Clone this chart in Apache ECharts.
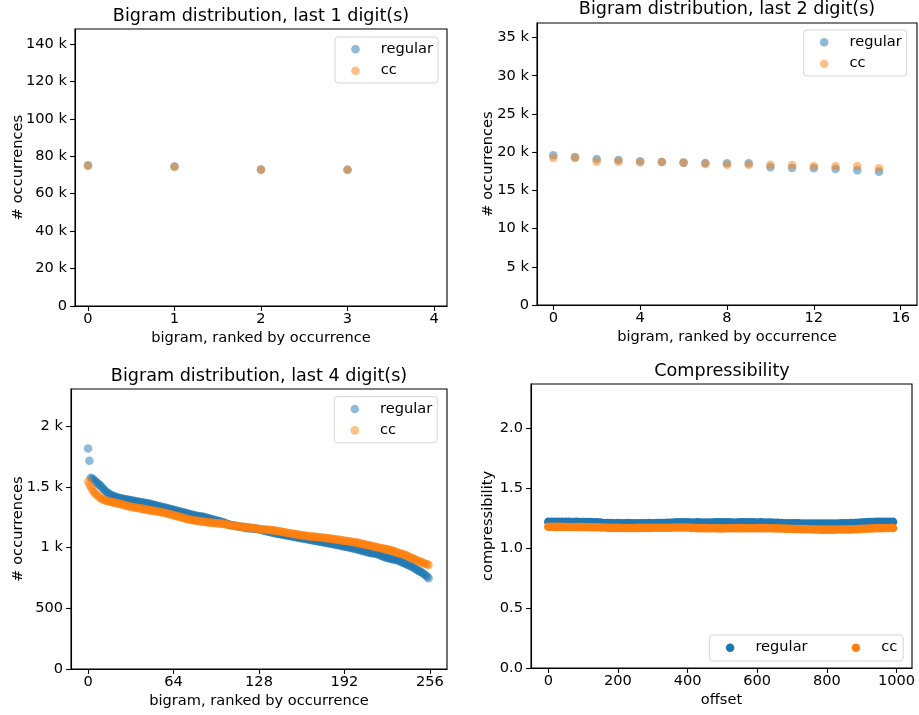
<!DOCTYPE html>
<html>
<head>
<meta charset="utf-8">
<title>Bigram distribution</title>
<script src="https://cdn.jsdelivr.net/npm/echarts@6.0.0/dist/echarts.min.js"></script>
<style>
  html, body { margin: 0; padding: 0; background: #fff; }
  #chart { width: 919px; height: 715px; }
</style>
</head>
<body>
<div id="chart"></div>
<script>
const BLUE = '#1f77b4';
const ORANGE = '#ff7f0e';
const FONT = 'DejaVu Sans';
const FS = 14.6;      // tick / label / legend size
const FS_TITLE = 17.6;

// last 1 digit(s): 4 bigrams
const reg1 = [75200, 74500, 72900, 72800];
const cc1 = [74800, 74400, 72800, 72800];

// last 2 digit(s): 16 bigrams
const reg2 = [19590, 19350, 19100, 18980, 18800, 18710, 18630, 18580,
              18540, 18540, 18020, 17930, 17890, 17800, 17630, 17450];
const cc2 = [19240, 19250, 18760, 18760, 18680, 18710, 18630, 18450,
             18360, 18360, 18360, 18320, 18190, 18150, 18190, 17890];

// last 4 digit(s): 256 bigrams
const reg4 = [
  1815, 1714, 1575, 1568, 1560, 1550, 1540, 1530, 1520, 1512, 1500, 1488, 1476, 1465, 1455, 1447,
  1440, 1434, 1428, 1424, 1420, 1416, 1412, 1409, 1405, 1403, 1401, 1399, 1397, 1395, 1393, 1391,
  1389, 1387, 1385, 1383, 1381, 1379, 1377, 1375, 1373, 1371, 1369, 1367, 1365, 1362, 1360, 1357,
  1354, 1351, 1349, 1346, 1343, 1340, 1337, 1335, 1332, 1329, 1326, 1324, 1321, 1318, 1315, 1312,
  1310, 1307, 1304, 1301, 1298, 1296, 1293, 1290, 1287, 1284, 1281, 1278, 1275, 1272, 1270, 1267,
  1264, 1262, 1260, 1258, 1256, 1254, 1252, 1250, 1247, 1244, 1241, 1238, 1235, 1232, 1229, 1226,
  1223, 1220, 1217, 1214, 1211, 1208, 1204, 1200, 1196, 1192, 1188, 1185, 1183, 1181, 1179, 1177,
  1175, 1173, 1171, 1169, 1167, 1165, 1163, 1162, 1160, 1159, 1158, 1157, 1156, 1155, 1153, 1152,
  1150, 1148, 1145, 1142, 1139, 1137, 1134, 1131, 1129, 1126, 1123, 1120, 1118, 1116, 1113, 1111,
  1109, 1107, 1105, 1103, 1101, 1099, 1097, 1095, 1093, 1091, 1089, 1087, 1085, 1083, 1081, 1079,
  1077, 1075, 1073, 1071, 1069, 1067, 1064, 1062, 1060, 1058, 1056, 1054, 1052, 1050, 1048, 1046,
  1044, 1042, 1040, 1038, 1036, 1034, 1032, 1030, 1028, 1026, 1024, 1022, 1019, 1016, 1013, 1010,
  1008, 1006, 1004, 1002, 1000, 998, 995, 993, 990, 987, 984, 981, 978, 975, 972, 969,
  966, 963, 960, 958, 956, 954, 953, 952, 950, 946, 941, 935, 930, 926, 922, 919,
  916, 913, 910, 907, 904, 901, 899, 897, 895, 890, 885, 880, 875, 870, 865, 860,
  855, 850, 845, 839, 833, 826, 819, 812, 806, 800, 794, 786, 778, 770, 760, 748
];
const cc4 = [
  1543, 1520, 1500, 1480, 1462, 1450, 1438, 1428, 1418, 1410, 1402, 1397, 1392, 1388, 1384, 1381,
  1379, 1377, 1374, 1372, 1369, 1367, 1364, 1361, 1358, 1356, 1353, 1350, 1347, 1344, 1341, 1338,
  1336, 1334, 1332, 1330, 1328, 1326, 1324, 1322, 1320, 1318, 1316, 1314, 1312, 1310, 1308, 1306,
  1304, 1302, 1300, 1298, 1296, 1294, 1292, 1290, 1288, 1286, 1284, 1281, 1278, 1275, 1272, 1269,
  1266, 1263, 1260, 1257, 1254, 1251, 1248, 1245, 1242, 1239, 1236, 1233, 1230, 1228, 1226, 1224,
  1222, 1221, 1219, 1218, 1216, 1215, 1213, 1212, 1210, 1209, 1207, 1206, 1205, 1204, 1203, 1202,
  1201, 1200, 1199, 1198, 1197, 1195, 1193, 1191, 1189, 1187, 1185, 1183, 1181, 1179, 1177, 1175,
  1174, 1173, 1172, 1171, 1170, 1169, 1168, 1167, 1166, 1164, 1163, 1161, 1160, 1158, 1156, 1154,
  1152, 1151, 1150, 1149, 1148, 1147, 1146, 1145, 1144, 1143, 1142, 1140, 1139, 1137, 1135, 1134,
  1132, 1130, 1128, 1126, 1124, 1122, 1120, 1118, 1116, 1114, 1112, 1110, 1108, 1106, 1104, 1103,
  1101, 1099, 1098, 1096, 1095, 1093, 1092, 1091, 1090, 1089, 1088, 1087, 1086, 1085, 1084, 1082,
  1081, 1079, 1078, 1076, 1075, 1073, 1072, 1070, 1069, 1067, 1066, 1064, 1063, 1061, 1059, 1057,
  1056, 1054, 1053, 1051, 1049, 1048, 1046, 1044, 1043, 1041, 1038, 1036, 1033, 1031, 1028, 1026,
  1023, 1021, 1019, 1017, 1014, 1011, 1008, 1005, 1003, 1000, 998, 996, 994, 991, 989, 987,
  985, 983, 980, 977, 974, 971, 966, 960, 957, 954, 951, 948, 944, 940, 936, 932,
  926, 920, 915, 911, 906, 901, 896, 891, 886, 882, 878, 873, 868, 864, 861, 857
];

// compressibility, one value every 10 offsets (0 .. 990)
const OFFSET_STEP = 10;
const comprReg = [
  1.219, 1.218, 1.218, 1.217, 1.218, 1.217, 1.217, 1.216, 1.217, 1.216, 1.216, 1.215, 1.215, 1.214, 1.214, 1.212,
  1.208, 1.207, 1.207, 1.206, 1.207, 1.206, 1.206, 1.207, 1.206, 1.206, 1.205, 1.206, 1.206, 1.207, 1.206, 1.207,
  1.207, 1.208, 1.209, 1.210, 1.212,
  1.213, 1.214, 1.213, 1.213, 1.212, 1.212, 1.213, 1.212, 1.212, 1.211, 1.212, 1.213, 1.214, 1.214, 1.213, 1.213,
  1.212, 1.212, 1.213, 1.213, 1.214, 1.213, 1.213, 1.212, 1.213, 1.212, 1.212, 1.211, 1.210, 1.209,
  1.207, 1.206, 1.206, 1.205, 1.205, 1.205, 1.204, 1.204, 1.203, 1.203, 1.203, 1.203, 1.204, 1.203, 1.203, 1.204,
  1.204, 1.205, 1.205, 1.206, 1.207, 1.208,
  1.210, 1.212, 1.214, 1.215, 1.216, 1.217, 1.218, 1.218, 1.219, 1.218, 1.218
];
const comprCC = [
  1.177, 1.177, 1.176, 1.176, 1.176, 1.175, 1.175, 1.175, 1.175, 1.174, 1.174, 1.174, 1.173, 1.173, 1.172, 1.171, 1.170,
  1.168, 1.167, 1.167, 1.167, 1.166, 1.166, 1.166, 1.166, 1.166, 1.167, 1.167, 1.167, 1.167, 1.168, 1.168, 1.168,
  1.168, 1.169, 1.169, 1.170, 1.170, 1.171, 1.171, 1.170,
  1.167, 1.166, 1.165, 1.165, 1.165, 1.164, 1.164, 1.164, 1.163, 1.163, 1.164, 1.164, 1.165, 1.165, 1.165, 1.165,
  1.164, 1.164, 1.164, 1.165, 1.165, 1.165, 1.164, 1.164, 1.163, 1.163, 1.162, 1.161,
  1.160, 1.159, 1.158, 1.158, 1.157, 1.157, 1.156, 1.155, 1.154, 1.153, 1.153, 1.153, 1.153, 1.153, 1.154, 1.154,
  1.154, 1.155, 1.155, 1.156, 1.157,
  1.159, 1.160, 1.162, 1.163, 1.164, 1.165, 1.165, 1.166, 1.166, 1.166
];

// tick labels
const xTicks1 = [0, 1, 2, 3, 4];
const xTicks2 = [0, 4, 8, 12, 16];
const xTicks4 = [0, 64, 128, 192, 256];
const xTicksOff = [0, 200, 400, 600, 800, 1000];
const yTicks1 = [0, 20000, 40000, 60000, 80000, 100000, 120000, 140000];
const yTicks2 = [0, 5000, 10000, 15000, 20000, 25000, 30000, 35000];
const yTicks4 = [0, 500, 1000, 1500, 2000];
const yTicksC = [0, 0.5, 1.0, 1.5, 2.0];

const eng = v => v >= 1000 ? (v / 1000) + ' k' : String(v);
const oneDec = v => v.toFixed(1);

const grids = [
  { left: 75, top: 29, width: 372, height: 277 },
  { left: 537, top: 23, width: 380, height: 282 },
  { left: 71, top: 389, width: 376, height: 280 },
  { left: 531, top: 384, width: 381, height: 284 }
].map(g => Object.assign({
  show: true, borderColor: '#000', borderWidth: 1.1,
  backgroundColor: 'transparent', containLabel: false, outerBoundsMode: 'none'
}, g));

function axis(o) {
  return {
    type: 'value', gridIndex: o.grid, min: o.min, max: o.max,
    name: o.name, nameLocation: 'middle', nameGap: o.gap, nameMoveOverlap: false,
    nameTextStyle: { fontFamily: FONT, fontSize: FS, color: '#000' },
    axisLine: { show: true, onZero: false, lineStyle: { color: '#000', width: 1.1 } },
    axisTick: { show: true, length: 4.9, customValues: o.ticks, lineStyle: { color: '#000', width: 1.1 } },
    axisLabel: {
      customValues: o.ticks, formatter: o.fmt, margin: o.margin,
      fontFamily: FONT, fontSize: FS, color: '#000'
    },
    splitLine: { show: false }
  };
}

const XNAME = 'bigram, ranked by occurrence';
const xAxes = [
  axis({ grid: 0, min: -0.15, max: 4.15, ticks: xTicks1, fmt: String, name: XNAME, gap: 24.5, margin: 6 }),
  axis({ grid: 1, min: -0.75, max: 16.75, ticks: xTicks2, fmt: String, name: XNAME, gap: 25, margin: 6 }),
  axis({ grid: 2, min: -12.8, max: 268.8, ticks: xTicks4, fmt: String, name: XNAME, gap: 25, margin: 6 }),
  axis({ grid: 3, min: -49.75, max: 1044.5, ticks: xTicksOff, fmt: String, name: 'offset', gap: 25, margin: 6 })
];
const yAxes = [
  axis({ grid: 0, min: 0, max: 148000, ticks: yTicks1, fmt: eng, name: '# occurrences', gap: 49, margin: 8 }),
  axis({ grid: 1, min: 0, max: 36900, ticks: yTicks2, fmt: eng, name: '# occurrences', gap: 41, margin: 8 }),
  axis({ grid: 2, min: 0, max: 2305, ticks: yTicks4, fmt: eng, name: '# occurrences', gap: 45, margin: 8 }),
  axis({ grid: 3, min: 0, max: 2.366, ticks: yTicksC, fmt: oneDec, name: 'compressibility', gap: 35, margin: 8 })
];

function scatter(name, color, idx, values, opacity, step) {
  return {
    type: 'scatter', name: name, xAxisIndex: idx, yAxisIndex: idx,
    symbol: 'circle', symbolSize: 8.6,
    itemStyle: { color: color, opacity: opacity },
    emphasis: { disabled: true },
    data: values.map((v, i) => [i * (step || 1), v])
  };
}

const series = [
  scatter('regular', BLUE, 0, reg1, 0.5), scatter('cc', ORANGE, 0, cc1, 0.5),
  scatter('regular', BLUE, 1, reg2, 0.5), scatter('cc', ORANGE, 1, cc2, 0.5),
  scatter('regular', BLUE, 2, reg4, 0.5), scatter('cc', ORANGE, 2, cc4, 0.5),
  scatter('regular', BLUE, 3, comprReg, 1, OFFSET_STEP), scatter('cc', ORANGE, 3, comprCC, 1, OFFSET_STEP)
];

function legend(left, top, opacity, orient) {
  const vertical = orient === 'vertical';
  return {
    orient: orient, left: left, top: top,
    selectedMode: false,
    icon: 'circle', itemWidth: 8.6, itemHeight: 8.6,
    itemGap: vertical ? 5.4 : 44,
    padding: vertical ? [4.3, 5, 4.3, 16.2] : [4.7, 6, 5.3, 16.5],
    backgroundColor: 'rgba(255,255,255,0.8)',
    borderColor: 'rgba(204,204,204,0.8)', borderWidth: 1, borderRadius: 3,
    textStyle: { fontFamily: FONT, fontSize: FS, color: '#000', lineHeight: 16, padding: [0, 0, 0, 16] },
    data: [
      { name: 'regular', itemStyle: { color: BLUE, opacity: opacity } },
      { name: 'cc', itemStyle: { color: ORANGE, opacity: opacity } }
    ]
  };
}

function title(text, center, top) {
  return {
    text: text, left: center, top: top, textAlign: 'center', padding: 0,
    textStyle: { fontFamily: FONT, fontSize: FS_TITLE, fontWeight: 'normal', color: '#000' }
  };
}

const option = {
  animation: false,
  backgroundColor: '#fff',
  title: [
    title('Bigram distribution, last 1 digit(s)', 261, 7),
    title('Bigram distribution, last 2 digit(s)', 727, 0.5),
    title('Bigram distribution, last 4 digit(s)', 259, 367),
    title('Compressibility', 722, 362)
  ],
  legend: [
    legend(335, 37, 0.5, 'vertical'),
    legend(803.7, 30, 0.5, 'vertical'),
    legend(334.3, 396.7, 0.5, 'vertical'),
    legend(709.3, 635, 1, 'horizontal')
  ],
  grid: grids,
  xAxis: xAxes,
  yAxis: yAxes,
  series: series
};

const myChart = echarts.init(document.getElementById('chart'), null, { renderer: 'canvas' });
myChart.setOption(option);
</script>
</body>
</html>
